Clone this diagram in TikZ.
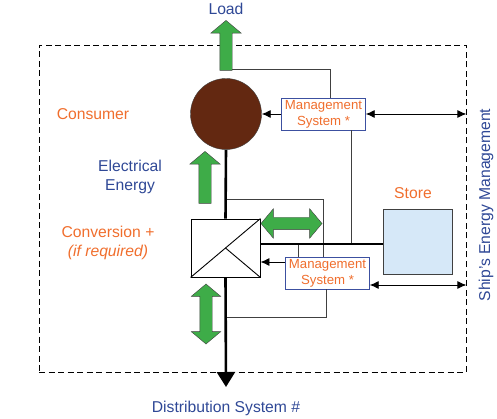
\documentclass[tikz,border=0pt]{standalone}
\usepackage{fontspec}
\setmainfont{Liberation Sans}
\usetikzlibrary{shapes.arrows,arrows.meta}
\definecolor{parttext}{RGB}{240,110,45}
\definecolor{flowtext}{RGB}{47,72,150}
\definecolor{boxblue}{RGB}{60,80,160}
\definecolor{consbrown}{RGB}{99,40,17}
\definecolor{energy}{RGB}{62,172,72}
\definecolor{edge}{RGB}{64,64,64}
\definecolor{storefill}{RGB}{214,232,248}

\begin{document}
\begin{tikzpicture}
[x=1pt,y=-1pt,
 txt/.style={font=\fontsize{15.7}{19}\selectfont,align=center,inner sep=0pt},
 part/.style={txt,text=parttext},
 flow/.style={txt,text=flowtext},
 mgmt/.style={draw=boxblue,fill=white,text=parttext,align=center,inner sep=0pt,
   minimum width=84pt,minimum height=32pt,font=\fontsize{13.2}{16}\selectfont},
 ctrl/.style={draw=edge,line width=0.9pt},
 sig/.style={draw=black,line width=0.9pt},
 bus/.style={draw=black,line width=2.6pt},
 up/.style={single arrow,draw=edge,fill=energy,inner sep=6pt,
   single arrow head extend=9pt,single arrow tip angle=100,shape border rotate=90},
 both/.style={double arrow,draw=edge,fill=energy,inner sep=6pt,
   double arrow head extend=8.5pt,double arrow tip angle=100}]

\useasboundingbox (0,0) rectangle (497,419);

\node (ship) at (252.5,208.5) [draw,dash pattern=on 6pt off 3.5pt,line width=0.8pt,
  minimum width=427pt,minimum height=327pt] {};

\node (cons) at (226,114) [circle,draw=edge,fill=consbrown,minimum size=71pt,inner sep=0pt] {};
\node (conv) at (225.5,248) [draw=black,fill=white,line width=0.9pt,
  minimum width=69pt,minimum height=58pt] {};
\node (store) at (417.5,241.5) [draw=edge,fill=storefill,line width=0.9pt,
  minimum width=69pt,minimum height=65pt] {};
\node (mgmtA) at (323.5,114) [mgmt] {Management\\System *};
\node (mgmtB) at (327.5,273) [mgmt] {Management\\System *};

\draw[sig] (conv.south west) -- (conv.north east);
\draw[sig] (conv.center) -- (conv.south east);

\node at (226,9) [flow] {Load};
\node at (93,114) [part] {Consumer};
\node at (130,177) [flow] {Electrical\\Energy};
\node at (108,243) [part] {Conversion +\\\textit{(if required)}};
\node at (413,193) [part] {Store};
\node at (226,408) [flow] {Distribution System \#};
\node at (486,205) [flow,rotate=90] {Ship’s Energy Management};

% control lines
\coordinate (ldtap) at (226,69);
\coordinate (cvtap) at (226,199);
\coordinate (dstap) at (226,317);
\coordinate (stl) at (0,244);
\coordinate (ain) at ([xshift=27.5pt]mgmtA.south);
\coordinate (bup) at ([xshift=-29.5pt]mgmtB.north);
\coordinate (bin) at ([yshift=11pt]mgmtB.west);
\coordinate (bout) at ([yshift=-12pt]mgmtB.east);
\coordinate (bdn) at ([xshift=-1.5pt]mgmtB.south);
\coordinate (distend) at (226,387);

\draw[ctrl] (ldtap) -| ([xshift=6.5pt]mgmtA.north);
\draw[ctrl] (cvtap) -| ([xshift=-4.5pt]mgmtB.north);
\draw[ctrl] (ain) -- (ain |- stl);
\draw[ctrl] (bup) -- (bup |- stl);
\draw[ctrl] (bdn) |- (dstap);

\draw[sig,-{Latex[length=9pt,width=8pt]}] (mgmtA.west) -- (cons.east);
\draw[sig,-{Latex[length=9pt,width=8pt]}] (bin) -- (bin -| conv.east);
\draw[sig,{Latex[length=9pt,width=8pt]}-{Latex[length=9pt,width=8pt]}] (mgmtA.east) -- (mgmtA.east -| ship.east);
\draw[sig,{Latex[length=9pt,width=8pt]}-{Latex[length=9pt,width=8pt]}] (bout) -- (bout -| ship.east);

% power lines
\draw[bus] (cons.south) -- (conv.north);
\draw[bus,-{Triangle[width=18pt,length=15pt]}] (conv.south) -- (distend);
\draw[bus] (conv.east |- stl) -- (store.west |- stl);

% energy arrows
\node (load) at (226,48) [up,minimum height=50pt] {};
\node (elec) at (205,180) [up,minimum height=52pt] {};
\node (swap) at (291.5,223.5) [both,minimum height=61pt] {};
\node (feed) at (206,314) [both,minimum height=60pt,shape border rotate=90] {};
\end{tikzpicture}
\end{document}
